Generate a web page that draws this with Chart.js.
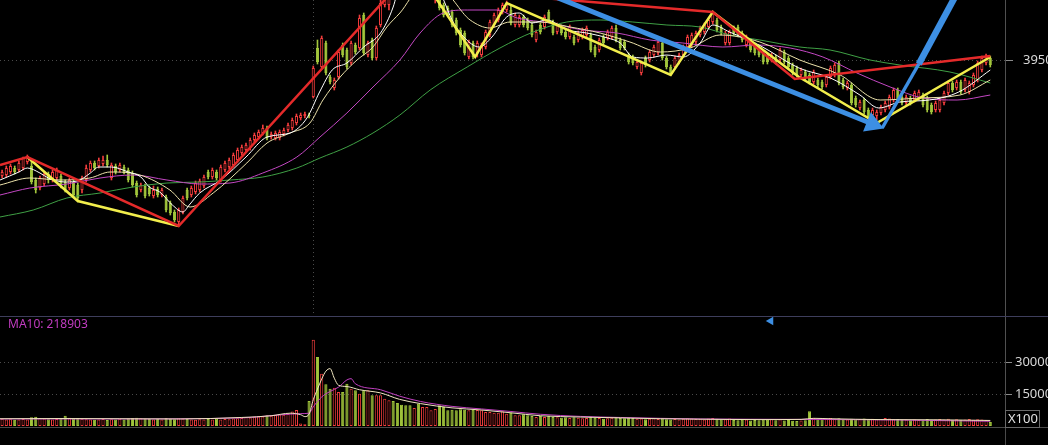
<!DOCTYPE html>
<html>
<head>
<meta charset="utf-8">
<script src="https://cdn.jsdelivr.net/npm/chart.js"></script>
<style>
  html, body { margin: 0; padding: 0; background: #000; overflow: hidden; }
  #wrap { position: relative; width: 1048px; height: 445px; }
  canvas { position: absolute; left: 0; }
  #kline { top: 0; }
  #vol { top: 317px; }
</style>
</head>
<body>
<div id="wrap">
  <canvas id="kline" width="1048" height="317"></canvas>
  <canvas id="vol" width="1048" height="128"></canvas>
</div>
<script>
/* ================= DATA ================= */
const openP = [
  3834,3835,3838,3842,3840,3842,3848,3844,3830,3822,
  3826,3836,3830,3832,3834,3828,3822,3828,3825,3820,
  3830,3840,3847,3844,3846,3850,3832,3844,3840,3843,
  3840,3837,3827,3820,3824,3822,3814,3821,3815,3813,
  3807,3798,3788,3798,3820,3815,3818,3820,3824,3838,
  3833,3838,3830,3840,3843,3845,3850,3857,3860,3862,
  3870,3873,3877,3882,3873,3872,3872,3876,3880,3882,
  3887,3892,3894,3895,3913,3962,3943,3967,3933,3922,
  3933,3965,3960,3947,3965,3962,3995,3955,3970,3952,
  3985,4005,4005,4045,4045,4055,4060,4058,4040,4055,
  4030,4025,4015,4010,4012,4005,4002,3998,3990,3980,
  3977,3953,3967,3957,3955,3963,3975,3985,3990,3998,
  4000,4000,3985,3985,3993,3990,3985,3970,3985,3983,
  3998,3988,3978,3983,3978,3973,3973,3970,3973,3975,
  3975,3963,3960,3973,3972,3973,3982,3970,3968,3955,
  3953,3943,3937,3952,3950,3955,3957,3967,3952,3943,
  3943,3948,3955,3963,3965,3968,3975,3978,3983,3988,
  3990,3983,3967,3967,3982,3983,3977,3965,3967,3965,
  3962,3958,3955,3950,3953,3950,3958,3952,3945,3942,
  3935,3938,3935,3928,3930,3928,3925,3933,3935,3947,
  3930,3922,3925,3912,3902,3910,3900,3895,3894,3897,
  3900,3903,3910,3920,3913,3907,3912,3910,3912,3915,
  3912,3905,3900,3900,3907,3917,3927,3922,3928,3920,
  3918,3925,3930,3940,3947,3952
];
const closeP = [
  3838,3842,3844,3838,3847,3852,3853,3828,3820,3832,
  3836,3830,3838,3840,3824,3820,3830,3815,3812,3832,
  3842,3847,3842,3850,3850,3845,3845,3838,3845,3838,
  3830,3825,3815,3825,3814,3816,3820,3815,3820,3800,
  3797,3790,3800,3812,3812,3822,3827,3829,3833,3833,
  3840,3832,3843,3847,3850,3855,3860,3863,3865,3870,
  3875,3878,3882,3872,3876,3877,3878,3880,3885,3890,
  3894,3895,3896,3894,3942,3948,3972,3937,3928,3930,
  3958,3955,3943,3967,3958,3992,3957,3967,3952,3982,
  4007,4025,4030,4032,4035,4040,4045,4048,4055,4040,
  4045,4038,4030,4022,4002,3995,3995,3985,3977,3965,
  3957,3968,3953,3967,3965,3978,3988,3995,4000,4005,
  4007,3987,3995,3993,3985,3982,3975,3978,3978,3993,
  3990,3977,3985,3977,3973,3983,3967,3977,3980,3982,
  3960,3955,3970,3967,3978,3982,3970,3962,3962,3948,
  3947,3948,3947,3945,3958,3963,3968,3952,3943,3937,
  3952,3955,3963,3973,3975,3977,3982,3985,3990,3997,
  3980,3977,3977,3978,3977,3975,3970,3973,3960,3957,
  3955,3948,3948,3955,3948,3960,3948,3943,3937,3935,
  3940,3932,3928,3938,3925,3923,3933,3942,3945,3927,
  3923,3927,3907,3905,3908,3898,3893,3900,3898,3903,
  3907,3913,3920,3910,3907,3913,3907,3917,3918,3905,
  3900,3898,3907,3910,3917,3927,3920,3928,3918,3930,
  3927,3935,3947,3952,3953,3945
];
const highP = [
  3840,3844,3846,3844,3849,3853,3855,3850,3832,3834,
  3838,3838,3840,3842,3836,3830,3832,3830,3827,3834,
  3845,3849,3849,3852,3854,3855,3847,3846,3847,3845,
  3842,3839,3829,3827,3826,3824,3824,3823,3822,3815,
  3809,3800,3802,3814,3822,3824,3829,3831,3835,3840,
  3842,3840,3845,3849,3852,3857,3862,3865,3867,3872,
  3877,3880,3885,3884,3878,3879,3880,3882,3887,3892,
  3896,3897,3898,3897,3944,3970,3974,3969,3935,3932,
  3960,3967,3962,3969,3967,3995,3997,3969,3972,3984,
  4010,4028,4035,4050,4052,4060,4065,4066,4060,4058,
  4050,4042,4034,4026,4015,4007,4004,4000,3992,3982,
  3979,3970,3969,3969,3967,3980,3990,3997,4002,4007,
  4009,4004,3997,3995,3995,3992,3987,3980,3987,3995,
  4000,3990,3987,3985,3980,3985,3975,3979,3982,3984,
  3977,3965,3972,3975,3980,3984,3985,3972,3970,3957,
  3955,3950,3949,3954,3960,3965,3970,3969,3954,3945,
  3954,3957,3965,3975,3977,3979,3984,3987,3992,3999,
  3992,3985,3979,3980,3984,3985,3979,3975,3969,3967,
  3964,3960,3957,3957,3955,3962,3960,3954,3947,3944,
  3942,3940,3937,3940,3932,3930,3935,3944,3947,3949,
  3932,3929,3927,3914,3910,3912,3902,3902,3900,3905,
  3909,3915,3922,3922,3915,3915,3914,3919,3920,3917,
  3914,3907,3909,3912,3919,3929,3929,3930,3930,3932,
  3929,3937,3949,3954,3956,3954
];
const lowP = [
  3832,3833,3836,3836,3838,3840,3846,3826,3817,3820,
  3824,3827,3828,3830,3822,3818,3820,3813,3808,3817,
  3828,3838,3840,3842,3844,3843,3830,3836,3838,3836,
  3828,3823,3813,3818,3812,3814,3812,3813,3813,3798,
  3795,3788,3784,3796,3810,3813,3816,3818,3822,3831,
  3831,3830,3828,3838,3841,3843,3848,3855,3858,3860,
  3868,3871,3875,3870,3871,3870,3870,3874,3878,3880,
  3885,3890,3892,3892,3912,3946,3941,3935,3926,3920,
  3931,3953,3941,3945,3956,3960,3955,3953,3950,3950,
  3983,4003,4000,4028,4030,4037,4040,4045,4037,4036,
  4027,4022,4012,4007,4000,3993,3993,3983,3975,3963,
  3955,3951,3951,3953,3953,3961,3973,3983,3988,3996,
  3998,3985,3983,3983,3983,3980,3973,3968,3976,3981,
  3988,3975,3976,3975,3971,3971,3965,3968,3971,3973,
  3958,3953,3958,3965,3970,3971,3968,3960,3960,3946,
  3945,3941,3935,3943,3948,3953,3955,3950,3941,3935,
  3941,3946,3953,3961,3963,3966,3973,3976,3981,3986,
  3978,3975,3965,3965,3975,3973,3968,3963,3958,3955,
  3953,3946,3946,3948,3946,3948,3946,3941,3935,3933,
  3933,3930,3926,3926,3923,3921,3923,3931,3933,3925,
  3921,3920,3905,3903,3900,3896,3891,3892,3890,3895,
  3898,3901,3908,3908,3905,3905,3905,3908,3910,3903,
  3898,3896,3898,3898,3905,3915,3918,3920,3916,3918,
  3916,3923,3928,3938,3945,3943
];
// volume, axis units (x100)
const volume = [
  3400,3000,3200,2900,3100,3300,3000,4100,4300,3800,
  3500,3200,3000,3300,3600,4800,3900,3500,3700,3400,
  3200,3000,2900,3100,3300,2800,3200,3000,3400,3100,
  3500,3800,3900,3600,3500,3300,3000,3300,3100,3800,
  3400,3200,3600,3500,3300,3100,2900,3200,3100,3300,
  3000,3400,3100,3300,3200,3500,3600,3800,4200,4000,
  4300,4500,4400,5000,4800,5200,5400,5300,5600,6800,
  7500,1200,800,11700,40470,32340,24530,19530,17500,17970,
  15940,15940,19840,17500,16720,15160,16720,16720,14380,14380,
  14380,12810,12030,11720,10780,10000,9690,9690,8440,10470,
  8910,8910,7340,8000,9690,8910,7340,7650,7340,7800,
  7650,7340,7650,7500,7340,6560,6560,6250,6250,6900,
  5780,6250,5000,5000,5470,5000,4700,4220,4700,4220,
  4700,4220,4060,3900,4100,3750,4100,3900,3600,3800,
  4200,3900,3700,3400,3600,3900,4200,3800,3600,3900,
  3700,3400,3500,3200,3400,3600,3300,3500,3200,3000,
  3300,3100,3400,3600,3500,3300,3400,3100,3500,3700,
  3400,3000,3200,3500,2800,2700,2900,3000,2600,2800,
  2700,3000,2900,3300,2700,3200,2600,2800,2500,2400,
  2600,2700,6900,3800,3200,3500,3300,3700,3400,3600,
  3100,3000,3400,3200,3300,3500,3100,3400,3200,3300,
  3700,3500,3200,3300,2900,3100,2700,3000,2800,2700,
  3300,2900,3100,3300,3000,3400,2800,3200,2900,3100,
  3300,2900,3200,3000,2800,1900
];

// moving averages: [candle index, value]
const ma5Line = [[-0.5,3830],[4,3838],[6,3842],[9,3837],[11,3832],[15,3828],[18.5,3830],[21,3837],[23,3843],[26,3843],[30,3838],[33,3833],[35,3823],[37.5,3818],[40.5,3805],[43,3798],[44.5,3805],[47,3817],[52,3830],[58,3853],[63,3873],[68.5,3877],[72.5,3892],[75.5,3918],[78.5,3940],[82,3947],[86,3963],[90,3977],[93,4003],[94.5,4025],[98,4045],[102,4035],[105,4010],[107,3990],[110.5,3970],[113.5,3963],[116.5,3973],[120,3993],[123,3997],[126,3987],[129.5,3990],[134.5,3980],[139,3977],[144,3972],[147,3967],[150,3953],[153.5,3952],[158,3955],[162,3953],[166,3967],[169,3985],[173,3978],[180,3965],[189.5,3942],[197,3932],[204,3915],[208.5,3902],[213.5,3908],[220.5,3910],[227.5,3918],[235,3940]];
const ma10Line = [[-0.5,3825],[6.6,3832],[13.8,3830],[20.9,3832],[25.7,3838],[32.8,3835],[39.9,3820],[44.7,3803],[50.2,3817],[58.2,3847],[63,3867],[68.5,3877],[73.2,3887],[76.3,3910],[80.4,3933],[84.4,3950],[88.2,3963],[91.5,3983],[94.6,3997],[99.4,4020],[104.1,4020],[111.3,3990],[116,3982],[120.8,3988],[127.9,3988],[135.1,3983],[142.2,3977],[149.3,3968],[156.5,3958],[163.6,3962],[170.7,3975],[180.2,3968],[189.7,3950],[199.3,3935],[208.8,3910],[218.3,3912],[227.8,3915],[235,3930]];
const ma20Line = [[-0.5,3815],[6.6,3822],[15.4,3826],[23.3,3832],[31.1,3835],[39.2,3830],[47.1,3826],[54.2,3827],[62,3837],[70.1,3853],[75.6,3873],[82,3897],[88.2,3923],[94.6,3950],[99.4,3977],[104.9,3997],[110.6,4000],[117.7,4000],[122.5,3992],[130.3,3987],[138.1,3980],[146.2,3977],[154.1,3970],[161.9,3967],[171.4,3963],[179.5,3965],[187.4,3962],[195.2,3953],[203.3,3937],[211.2,3923],[219,3912],[227.1,3910],[235,3915]];
const ma60Line = [[-0.5,3793],[7.4,3800],[15.4,3812],[23.3,3817],[31.1,3823],[39.2,3827],[47.1,3828],[54.2,3830],[62,3833],[70.1,3842],[75.6,3852],[82,3863],[88.2,3877],[94.6,3895],[101.8,3920],[110.6,3943],[118.4,3962],[126.3,3978],[134.3,3988],[142.2,3990],[150,3988],[158.1,3985],[166,3983],[173.1,3975],[180.2,3970],[189.7,3963],[196.9,3960],[206.4,3950],[213.5,3945],[225.4,3938],[235,3927]];

const volMa5 = [[-0.5,3400],[14,3500],[28,3400],[42,3300],[57,4000],[64,4800],[68.5,6000],[71,5300],[72,4400],[73,5600],[74,12300],[75,17300],[76,22000],[77,25700],[78,26900],[79,22400],[80,19100],[82,18500],[85,17000],[90,15500],[94.5,12500],[99.5,10500],[107,8500],[114,7500],[121,6200],[128,4800],[137.5,4200],[147,3800],[156.5,3400],[166,3200],[180,3000],[190,3100],[193,3600],[197,3400],[209,3000],[223,2900],[235,2600]];
const volMa10 = [[-0.5,3300],[28,3300],[57,3800],[66,5200],[71,5800],[73,6000],[74,9000],[76,13600],[78,16200],[80,18200],[82,21600],[83,22200],[84,19800],[90,17000],[94.5,14000],[99.5,11500],[107,9200],[114,8000],[121,6800],[128,5500],[137.5,4500],[147,4000],[156.5,3600],[166,3300],[190,3100],[213.5,2800],[235,2200]];

// hand drawn trend lines: [candle index, price]
const redZig = [[-0.5,3845],[6,3853],[42,3784],[94,4024],[169,3998],[188.5,3931],[235,3954]];
const yellowZig = [[6,3853],[18,3809],[42,3784],[70,null],[99,4038],[112.5,3953],[120,4007],[159,3935],[169,3998],[189.5,3933],[208,3887],[235,3953]];
const blueDown = [[127.5,4020],[207,3886]];
const blueUp = [[209.3,3882],[218,3946],[227.5,4020]];
const markIdx = 182.8;

/* ================= STYLE ================= */
const UP = "#f03c3c";
const DOWN = "#a2c63c";
const BLUE = "#3d8fe3";
const SLOTS = 239;

Chart.defaults.font.family = "'Noto Sans', 'DejaVu Sans', sans-serif";
Chart.defaults.animation = false;

const upFlags = openP.map((o, i) => closeP[i] >= o);
const fillCol = upFlags.map(u => u ? "#000000" : DOWN);
const edgeCol = upFlags.map(u => u ? UP : DOWN);

function pts(list) {
  return list.map(p => ({ x: p[0], y: p[1] }));
}

function lineSet(list, color, width, order, extra) {
  return Object.assign({
    type: "line",
    data: pts(list),
    borderColor: color,
    borderWidth: width,
    pointRadius: 0,
    tension: 0,
    fill: false,
    order: order
  }, extra || {});
}

const smooth = { cubicInterpolationMode: "monotone" };

// right axis is a fixed 43px strip and must not push the plot area in
function fixRightAxis(s) {
  s.width = 43;
  s.paddingTop = 0;
  s.paddingBottom = 0;
}

function xScale(showGrid) {
  return {
    type: "linear",
    min: -0.5,
    max: SLOTS - 0.5,
    offset: false,
    display: showGrid,
    afterBuildTicks: s => { s.ticks = [{ value: 74 }]; },
    afterFit: s => { s.height = 0; s.paddingLeft = 0; s.paddingRight = 0; },
    grid: { display: true, offset: false, color: "#4a4a4a", drawTicks: false },
    border: { display: false, dash: [1, 3] },
    ticks: { display: false }
  };
}

/* ================= PRICE CHART ================= */
const panelLine = {
  id: "panelLine",
  afterDraw(chart) {
    const ctx = chart.ctx;
    ctx.save();
    ctx.strokeStyle = "#3e3e5c";
    ctx.lineWidth = 1;
    ctx.beginPath();
    ctx.moveTo(0, chart.height - 0.5);
    ctx.lineTo(chart.width, chart.height - 0.5);
    ctx.stroke();
    ctx.restore();
  }
};

new Chart(document.getElementById("kline"), {
  type: "bar",
  data: {
    datasets: [
      lineSet(blueDown, BLUE, 5, 0, {
        pointRadius: ctx => ctx.dataIndex === blueDown.length - 1 ? 12 : 0,
        pointStyle: "triangle",
        rotation: 112,
        pointBackgroundColor: BLUE,
        pointBorderColor: BLUE,
        pointBorderWidth: 0
      }),
      lineSet(blueUp, BLUE, 5, 0, {
        segment: { borderWidth: ctx => ctx.p0DataIndex === 0 ? 3.5 : 6.5 }
      }),
      lineSet(redZig, "#e42a2a", 2.5, 1),
      lineSet(yellowZig, "#f2ee4c", 2.5, 2, { spanGaps: false }),
      lineSet(ma5Line, "#ffffff", 1, 3, smooth),
      lineSet(ma10Line, "#ece2aa", 1, 4, smooth),
      lineSet(ma20Line, "#c347c3", 1, 5, smooth),
      lineSet(ma60Line, "#3fa045", 1, 6, smooth),
      {
        label: "body",
        data: openP.map((o, i) => ({ x: i, y: [o, closeP[i]] })),
        backgroundColor: fillCol,
        borderColor: edgeCol,
        borderWidth: 1,
        borderSkipped: false,
        barPercentage: 0.74,
        categoryPercentage: 1,
        grouped: false,
        minBarLength: 1,
        order: 7
      },
      {
        label: "wick",
        data: highP.map((h, i) => ({ x: i, y: [lowP[i], h] })),
        backgroundColor: edgeCol,
        borderWidth: 0,
        barThickness: 1,
        grouped: false,
        order: 8
      }
    ]
  },
  options: {
    responsive: false,
    devicePixelRatio: 1,
    events: [],
    layout: { padding: 0, autoPadding: false },
    plugins: { legend: { display: false }, tooltip: { enabled: false } },
    scales: {
      x: xScale(true),
      y: {
        position: "right",
        min: 3693,
        max: 4010,
        afterFit: fixRightAxis,
        afterBuildTicks: s => { s.ticks = [{ value: 3950 }]; },
        grid: { color: "#4a4a4a", tickColor: "#8a8a8a", tickLength: 8, tickBorderDash: [] },
        border: { display: true, color: "#505050", dash: [1, 3] },
        ticks: { color: "#d8d8d8", font: { size: 13 }, padding: 10, callback: v => String(v) }
      }
    }
  },
  plugins: [panelLine]
});

/* ================= VOLUME CHART ================= */
const volDecor = {
  id: "volDecor",
  afterDraw(chart) {
    const ctx = chart.ctx;
    const area = chart.chartArea;
    ctx.save();
    ctx.fillStyle = "#c23cc2";
    ctx.font = "12px 'Noto Sans', sans-serif";
    ctx.textBaseline = "middle";
    ctx.fillText("MA10: 218903", 8, 8);
    ctx.strokeStyle = "#4a4a4a";
    ctx.lineWidth = 1;
    ctx.beginPath();
    ctx.moveTo(0, area.bottom + 1.5);
    ctx.lineTo(chart.width, area.bottom + 1.5);
    ctx.moveTo(area.right + 0.5, area.bottom);
    ctx.lineTo(area.right + 0.5, chart.height);
    ctx.stroke();
    ctx.strokeStyle = "#6a6a6a";
    ctx.strokeRect(area.right + 0.5, area.bottom - 15.5, 34, 17);
    ctx.fillStyle = "#e0e0e0";
    ctx.font = "13px 'Noto Sans', sans-serif";
    ctx.fillText("X100", area.right + 3, area.bottom - 7);
    ctx.restore();
  }
};

new Chart(document.getElementById("vol"), {
  type: "bar",
  data: {
    datasets: [
      lineSet([[markIdx, 49220]], BLUE, 0, 0, {
        showLine: false,
        pointRadius: 5,
        pointStyle: "triangle",
        rotation: -90,
        pointBackgroundColor: BLUE,
        pointBorderWidth: 0,
        clip: false
      }),
      lineSet(volMa5, "#f0e6c0", 1, 1, smooth),
      lineSet(volMa10, "#c040c0", 1, 2, smooth),
      {
        label: "volume",
        data: volume.map((v, i) => ({ x: i, y: v })),
        backgroundColor: fillCol,
        borderColor: edgeCol,
        borderWidth: 1,
        borderSkipped: false,
        barPercentage: 0.74,
        categoryPercentage: 1,
        grouped: false,
        order: 3
      }
    ]
  },
  options: {
    responsive: false,
    devicePixelRatio: 1,
    events: [],
    layout: { padding: { bottom: 19 }, autoPadding: false },
    plugins: { legend: { display: false }, tooltip: { enabled: false } },
    scales: {
      x: xScale(false),
      y: {
        position: "right",
        min: 0,
        max: 51094,
        afterFit: fixRightAxis,
        afterBuildTicks: s => { s.ticks = [{ value: 15000 }, { value: 30000 }]; },
        grid: { color: "#4a4a4a", tickColor: "#8a8a8a", tickLength: 7, tickBorderDash: [] },
        border: { display: true, color: "#505050", dash: [1, 3] },
        ticks: { color: "#d8d8d8", font: { size: 13 }, padding: 3, callback: v => String(v) }
      }
    }
  },
  plugins: [volDecor]
});
</script>
</body>
</html>
